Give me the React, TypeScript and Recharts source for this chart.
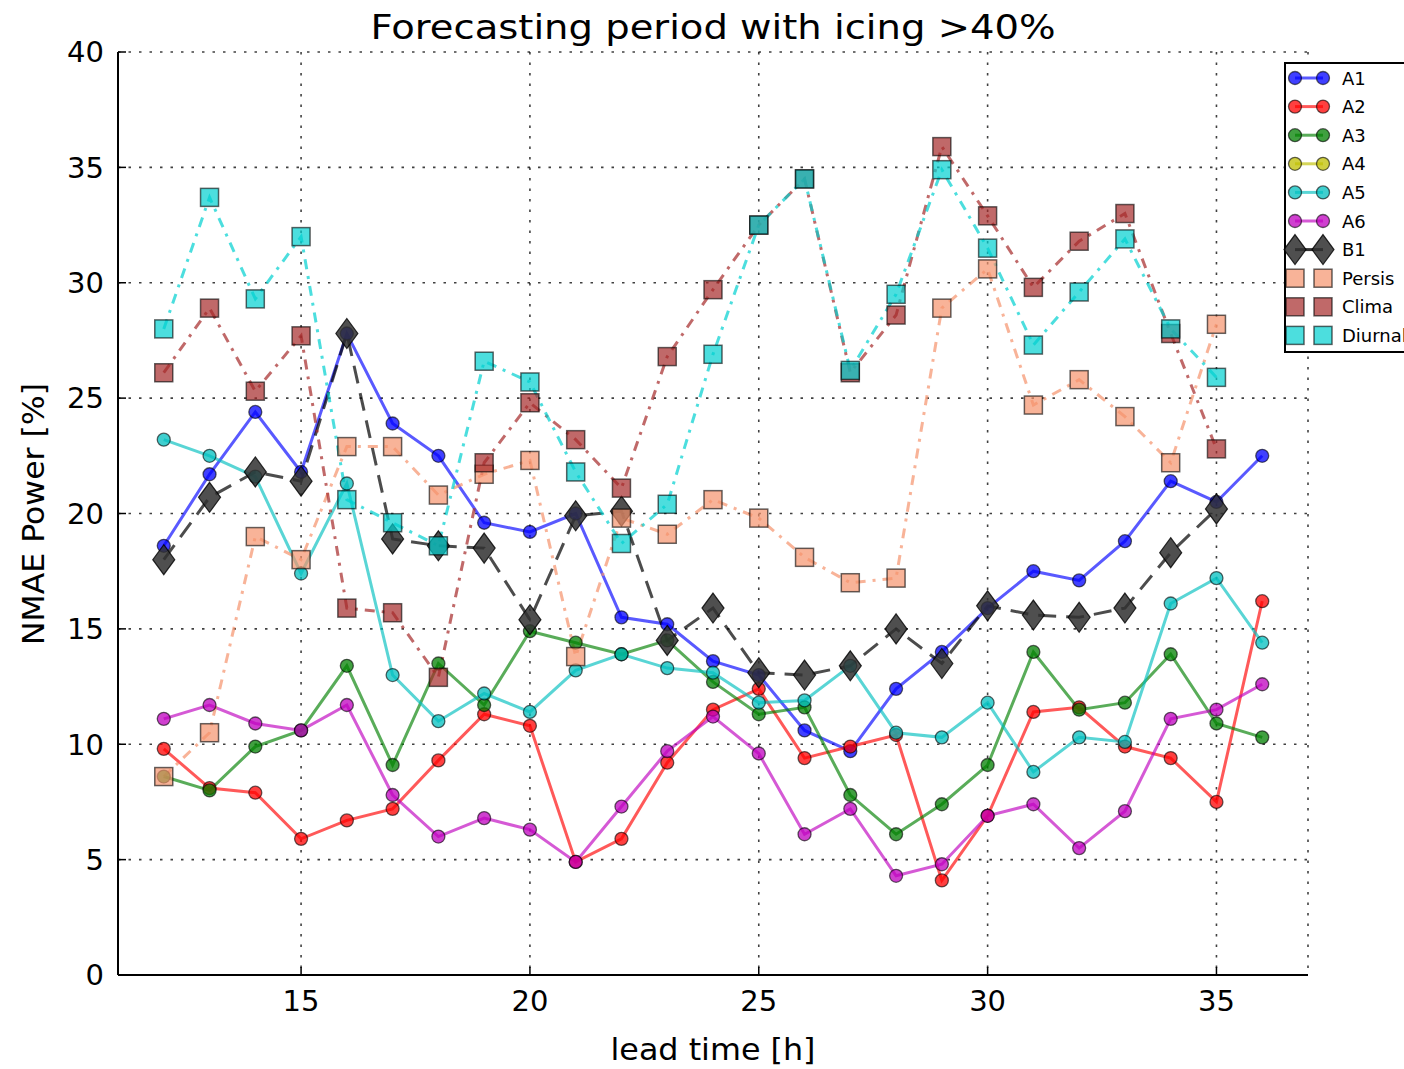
import React from 'react';
import { LineChart, Line, XAxis, YAxis, CartesianGrid } from 'recharts';

// lead times [h] and NMAE power [%] per model
const leadTimes = [12, 13, 14, 15, 16, 17, 18, 19, 20, 21, 22, 23, 24, 25, 26, 27, 28, 29, 30, 31, 32, 33, 34, 35, 36];

const a1 = [18.6, 21.7, 24.4, 21.8, 27.8, 23.9, 22.5, 19.6, 19.2, 20.0, 15.5, 15.2, 13.6, 13.0, 10.6, 9.7, 12.4, 14.0, 15.9, 17.5, 17.1, 18.8, 21.4, 20.5, 22.5];
const a2 = [9.8, 8.1, 7.9, 5.9, 6.7, 7.2, 9.3, 11.3, 10.8, 4.9, 5.9, 9.2, 11.5, 12.4, 9.4, 9.9, 10.4, 4.1, 6.9, 11.4, 11.6, 9.9, 9.4, 7.5, 16.2];
const a3 = [8.6, 8.0, 9.9, 10.6, 13.4, 9.1, 13.5, 11.7, 14.9, 14.4, 13.9, 14.5, 12.7, 11.3, 11.6, 7.8, 6.1, 7.4, 9.1, 14.0, 11.5, 11.8, 13.9, 10.9, 10.3];
const a4: (number | null)[] = []; // listed in the legend only, nothing plotted
const a5 = [23.2, 22.5, 21.6, 17.4, 21.3, 13.0, 11.0, 12.2, 11.4, 13.2, 13.9, 13.3, 13.1, 11.8, 11.9, 13.4, 10.5, 10.3, 11.8, 8.8, 10.3, 10.1, 16.1, 17.2, 14.4];
const a6 = [11.1, 11.7, 10.9, 10.6, 11.7, 7.8, 6.0, 6.8, 6.3, 4.9, 7.3, 9.7, 11.2, 9.6, 6.1, 7.2, 4.3, 4.8, 6.9, 7.4, 5.5, 7.1, 11.1, 11.5, 12.6];
const b1 = [18.0, 20.7, 21.8, 21.4, 27.8, 18.9, 18.6, 18.5, 15.4, 19.9, 20.1, 14.5, 15.9, 13.1, 13.0, 13.4, 15.0, 13.5, 16.0, 15.6, 15.5, 15.9, 18.3, 20.2, null];
const persis = [8.6, 10.5, 19.0, 18.0, 22.9, 22.9, 20.8, 21.7, 22.3, 13.8, 19.8, 19.1, 20.6, 19.8, 18.1, 17.0, 17.2, 28.9, 30.6, 24.7, 25.8, 24.2, 22.2, 28.2, null];
const clima = [26.1, 28.9, 25.3, 27.7, 15.9, 15.7, 12.9, 22.2, 24.8, 23.2, 21.1, 26.8, 29.7, 32.5, 34.5, 26.1, 28.6, 35.9, 32.9, 29.8, 31.8, 33.0, 27.8, 22.8, null];
const diurnal = [28.0, 33.7, 29.3, 32.0, 20.6, 19.6, 18.6, 26.6, 25.7, 21.8, 18.7, 20.4, 26.9, 32.5, 34.5, 26.2, 29.5, 34.9, 31.5, 27.3, 29.6, 31.9, 28.0, 25.9, null];

const xTicks = [15, 20, 25, 30, 35];
const yTicks = [0, 5, 10, 15, 20, 25, 30, 35, 40];

type Marker = 'circle' | 'diamond' | 'square';
interface Series {
  key: string;
  label: string;
  values: (number | null)[];
  color: string;
  marker: Marker;
  dash?: string;
}

const series: Series[] = [
  { key: 'A1', label: 'A1', values: a1, color: '#0000ff', marker: 'circle' },
  { key: 'A2', label: 'A2', values: a2, color: '#ff0000', marker: 'circle' },
  { key: 'A3', label: 'A3', values: a3, color: '#008000', marker: 'circle' },
  { key: 'A4', label: 'A4', values: a4, color: '#bfbf00', marker: 'circle' },
  { key: 'A5', label: 'A5', values: a5, color: '#00bfbf', marker: 'circle' },
  { key: 'A6', label: 'A6', values: a6, color: '#bf00bf', marker: 'circle' },
  { key: 'B1', label: 'B1', values: b1, color: '#000000', marker: 'diamond', dash: '18 10' },
  { key: 'Persis', label: 'Persis', values: persis, color: '#f5936c', marker: 'square', dash: '10 7 3 7' },
  { key: 'Clima', label: 'Clima', values: clima, color: '#a52a2a', marker: 'square', dash: '10 7 3 7' },
  { key: 'Diurnal', label: 'Diurnal', values: diurnal, color: '#00d0d0', marker: 'square', dash: '10 7 3 7' },
];

const rows = leadTimes.map((t, i) => {
  const row: Record<string, number | null> = { t };
  series.forEach(s => { row[s.key] = s.values[i] ?? null; });
  return row;
});

const FONT = 'DejaVu Sans';

const drawMarker = (marker: Marker, color: string, cx: number, cy: number, key?: any) => {
  if (marker === 'diamond') {
    return (
      <path key={key} d={`M${cx} ${cy - 15} L${cx + 11} ${cy} L${cx} ${cy + 15} L${cx - 11} ${cy} Z`}
        fill="#303030" fillOpacity={0.85} stroke="#000" strokeOpacity={0.8} strokeWidth={1.2} />
    );
  }
  if (marker === 'square') {
    return (
      <rect key={key} x={cx - 9} y={cy - 9} width={18} height={18}
        fill={color} fillOpacity={0.7} stroke="#000" strokeOpacity={0.6} strokeWidth={1.5} />
    );
  }
  return (
    <circle key={key} cx={cx} cy={cy} r={6.5}
      fill={color} fillOpacity={0.75} stroke="#000" strokeOpacity={0.6} strokeWidth={1.3} />
  );
};

const dotFor = (s: Series) => (props: any) => {
  const { cx, cy, index, value } = props;
  if (value === null || value === undefined || cx == null || cy == null) return <g key={index} />;
  return drawMarker(s.marker, s.color, cx, cy, index);
};

// legend box sits over the right frame and runs off the page edge, like the source figure
const Legend = () => {
  const top = 63;
  const step = 28.6;
  return (
    <g>
      <rect x={1285} y={top} width={160} height={289} fill="#fff" stroke="#000" strokeWidth={2} />
      {series.map((s, i) => {
        const y = top + 15 + i * step;
        return (
          <g key={s.key}>
            {s.marker !== 'square' && (
              <line x1={1295} x2={1323} y1={y} y2={y} stroke={s.color}
                strokeOpacity={s.marker === 'diamond' ? 0.8 : 0.65} strokeWidth={3} />
            )}
            {drawMarker(s.marker, s.color, 1295, y)}
            {drawMarker(s.marker, s.color, 1323, y)}
            <text x={1342} y={y} dominantBaseline="central" fontSize={18} fontFamily={FONT} fill="#000">{s.label}</text>
          </g>
        );
      })}
    </g>
  );
};

const App = () => {
  return (
    <div style={{ position: 'absolute', left: 0, top: 0, width: 1404, height: 1069, overflow: 'hidden', background: '#fff' }}>
      <LineChart width={1404} height={1069} data={rows} margin={{ top: 52, right: 96, bottom: 34, left: 40 }}>
        <CartesianGrid stroke="#000" strokeDasharray="2.5 8" strokeWidth={1.6} strokeOpacity={0.75} />
        <XAxis dataKey="t" type="number" domain={[11, 37]} ticks={xTicks} height={60}
          axisLine={{ stroke: '#000', strokeWidth: 2 }} tickLine={{ stroke: '#000', strokeWidth: 1.5 }}
          tickSize={-8} tickMargin={23} interval={0}
          tick={{ fontSize: 29, fill: '#000', fontFamily: FONT }} />
        <XAxis xAxisId="top" orientation="top" type="number" domain={[11, 37]} ticks={xTicks} height={0}
          axisLine={{ stroke: '#000', strokeWidth: 2 }} tickLine={{ stroke: '#000', strokeWidth: 1.5 }}
          tickSize={-8} tick={false} />
        <YAxis type="number" domain={[0, 40]} ticks={yTicks} width={78} interval={0}
          axisLine={{ stroke: '#000', strokeWidth: 2 }} tickLine={{ stroke: '#000', strokeWidth: 1.5 }}
          tickSize={-8} tickMargin={22}
          tick={{ fontSize: 29, fill: '#000', fontFamily: FONT }} />
        <YAxis yAxisId="right" orientation="right" type="number" domain={[0, 40]} ticks={yTicks} width={0}
          axisLine={{ stroke: '#000', strokeWidth: 2 }} tickLine={{ stroke: '#000', strokeWidth: 1.5 }}
          tickSize={-8} tick={false} />
        {series.map(s => (
          <Line key={s.key} dataKey={s.key} type="linear" stroke={s.color}
            strokeOpacity={s.marker === 'circle' ? 0.65 : 0.7} strokeWidth={3}
            strokeDasharray={s.dash} dot={dotFor(s)} activeDot={false}
            isAnimationActive={false} />
        ))}
      </LineChart>
      <svg width={1404} height={1069} style={{ position: 'absolute', left: 0, top: 0, pointerEvents: 'none' }}>
        <text x={713} y={39} textAnchor="middle" fontSize={34} fontFamily={FONT} fill="#000"
          textLength={685} lengthAdjust="spacingAndGlyphs">Forecasting period with icing &gt;40%</text>
        <text x={713} y={1060} textAnchor="middle" fontSize={31} fontFamily={FONT} fill="#000"
          textLength={205} lengthAdjust="spacingAndGlyphs">lead time [h]</text>
        <text x={44} y={514} transform="rotate(-90 44 514)" textAnchor="middle" fontSize={31} fontFamily={FONT} fill="#000"
          textLength={262} lengthAdjust="spacingAndGlyphs">NMAE Power [%]</text>
        <Legend />
      </svg>
    </div>
  );
};

export default App;
